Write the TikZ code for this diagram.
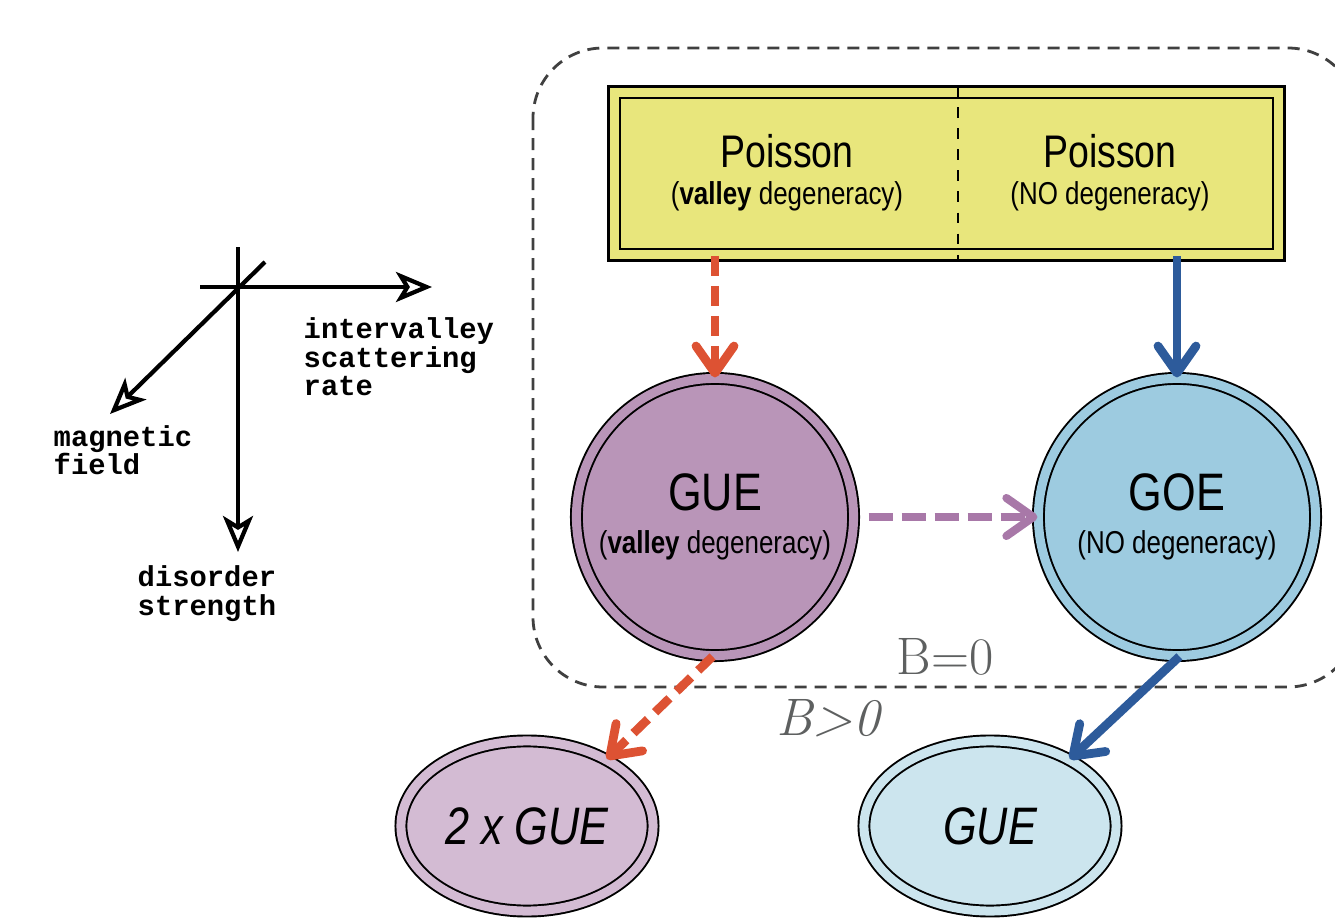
\documentclass[tikz,border=0pt]{standalone}
\usepackage{fontspec}
\setsansfont{Liberation Sans}[FakeStretch=0.82]
\setmonofont{Liberation Mono}
\usetikzlibrary{arrows.meta,shapes.geometric}

\definecolor{poissonyellow}{HTML}{E8E67C}
\definecolor{guepurple}{HTML}{B995B8}
\definecolor{goeblue}{HTML}{9DCBE0}
\definecolor{lightpurple}{HTML}{D3BBD3}
\definecolor{lightblue}{HTML}{CCE5EE}
\definecolor{flowred}{HTML}{DD5233}
\definecolor{flowblue}{HTML}{2D5B9B}
\definecolor{flowpurple}{HTML}{A878A8}
\definecolor{labelgray}{HTML}{5E6060}

\newcommand{\degtext}[1]{{\fontsize{9}{10}\selectfont(#1)}}

\begin{document}
\begin{tikzpicture}[x=0.01cm,y=-0.01cm,
	ensemble/.style={circle,draw,line width=0.55pt,double distance=0.09cm,double=#1,fill=#1,
		minimum size=2.77cm,inner sep=0pt,align=center,font=\sffamily\fontsize{15}{12.4}\selectfont},
	broken/.style={ellipse,draw,line width=0.55pt,double distance=0.09cm,double=#1,fill=#1,
		minimum width=2.52cm,minimum height=1.70cm,inner sep=0pt,font=\sffamily\itshape\fontsize{15}{15}\selectfont},
	poissontext/.style={align=center,inner sep=0pt,font=\sffamily\fontsize{13}{10.6}\selectfont},
	flow/.style={line width=2.5pt,-{Straight Barb[length=0.27cm,width=0.38cm,round]}},
	redflow/.style={flow,draw=flowred,dash pattern=on 0.2cm off 0.1cm},
	blueflow/.style={flow,draw=flowblue},
	purpleflow/.style={flow,draw=flowpurple,line width=2.3pt,dash pattern=on 0.24cm off 0.09cm},
	axis/.style={line width=1.2pt,-{Stealth[open,length=0.36cm,width=0.3cm,inset=0.09cm]}},
	axislabel/.style={align=left,anchor=base west,inner sep=0pt,font=\ttfamily\bfseries\fontsize{8.2}{8.2}\selectfont},
	fieldlabel/.style={text=labelgray,inner sep=0pt,font=\rmfamily\fontsize{15}{15}\selectfont}]

\clip (0,0) rectangle (1335,918);

% axes
\coordinate (origin) at (238,287);
\coordinate (ratestart) at (200,287);
\coordinate (rateend) at (432,287);
\coordinate (disstart) at (238,247);
\coordinate (disend) at (238,552);
\coordinate (magstart) at (265,262);
\coordinate (magend) at (110,414);
\draw[axis] (ratestart) -- (rateend);
\draw[axis] (disstart) -- (disend);
\draw[axis] (magstart) -- (magend);
\node[axislabel] (ratelabel) at (303,396) {intervalley\\scattering\\rate};
\node[axislabel] (maglabel) at (53,475) {magnetic\\field};
\node[axislabel] (dislabel) at (137,615) {disorder\\strength};

% B=0 region
\draw[dashed,line width=0.8pt,draw=black!75,dash pattern=on 0.12cm off 0.08cm,rounded corners=0.7cm]
	(533,48) rectangle (1358,687);

\node[draw,line width=0.7pt,double distance=0.09cm,double=poissonyellow,fill=poissonyellow,
	minimum width=6.64cm,minimum height=1.62cm,inner sep=0pt] (poisson) at (946.5,173.5) {};
\draw[dashed,line width=0.6pt] (958,86) -- (958,261);
\node[poissontext] (poissonL) at (787,173) {Poisson\\\degtext{\textbf{valley} degeneracy}};
\node[poissontext] (poissonR) at (1110,173) {Poisson\\\degtext{NO degeneracy}};

\node[ensemble=guepurple] (gue) at (715,517) {GUE\\\degtext{\textbf{valley} degeneracy}};
\node[ensemble=goeblue] (goe) at (1177,517) {GOE\\\degtext{NO degeneracy}};

\node[broken=lightpurple] (twogue) at (527,826) {2 x GUE};
\node[broken=lightblue] (guebroken) at (990,826) {GUE};

\node[fieldlabel] (bzero) at (945,657) {B=0};
\node[fieldlabel,font=\rmfamily\itshape\fontsize{15}{15}\selectfont] (bpos) at (828,718) {B>0};

\draw[redflow] (gue |- poisson.south) -- (gue.north);
\draw[blueflow] (goe |- poisson.south) -- (goe.north);
\draw[purpleflow,shorten <=4pt] (gue.east) -- (goe.west);
\draw[redflow] (gue.-91) -- (twogue.40);
\draw[blueflow] (goe.-89) -- (guebroken.40);
\end{tikzpicture}
\end{document}
